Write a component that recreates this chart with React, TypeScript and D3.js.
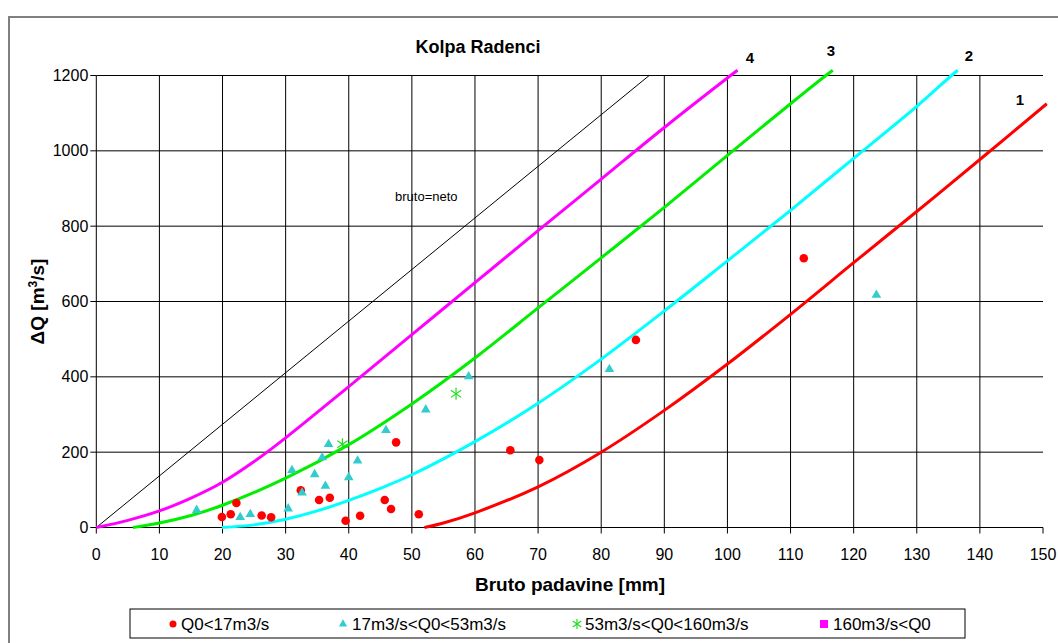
import React from "react";
import * as d3 from "d3";

// ---- data ----
const xTicks = [0, 10, 20, 30, 40, 50, 60, 70, 80, 90, 100, 110, 120, 130, 140, 150];
const yTicks = [0, 200, 400, 600, 800, 1000, 1200];

// curve 4 (magenta)
const curve4P = [0, 5, 10, 15, 20, 25, 30, 40, 50, 60, 70, 80, 90, 100.5, 101.6];
const curve4Q = [0, 19, 44, 78, 120, 175, 238, 374, 512, 650, 788, 925, 1062, 1200, 1214];
// curve 3 (green)
const curve3P = [5.8, 10, 15, 20, 30, 40, 50, 60, 70, 80, 90, 100, 110, 115.6, 116.7];
const curve3Q = [0, 12, 32, 59, 131, 220, 328, 450, 583, 716, 850, 988, 1125, 1200, 1214];
// curve 2 (cyan)
const curve2P = [19.9, 25, 30, 35, 40, 45, 50, 60, 70, 80, 90, 100, 110, 120, 130, 135.5, 136.5];
const curve2Q = [0, 7, 22, 44, 72, 104, 140, 228, 330, 447, 575, 708, 842, 980, 1118, 1200, 1214];
// curve 1 (red)
const curve1P = [52, 55, 60, 70, 80, 90, 100, 110, 120, 130, 140, 150.6];
const curve1Q = [0, 12, 39, 108, 200, 311, 434, 566, 703, 839, 977, 1125];
// bruto = neto line
const brutoP = [0, 87.6];
const brutoQ = [0, 1200];

// Q0 < 17 m3/s (red circles)
const redP = [19.9, 21.3, 22.2, 26.2, 27.7, 32.4, 35.3, 37.0, 39.5, 41.8, 45.7, 46.7, 47.5, 51.1, 65.6, 70.2, 85.5, 112.1];
const redQ = [28, 35, 65, 32, 27, 99, 73, 79, 18, 31, 73, 49, 226, 35, 205, 179, 498, 715];
// 17 < Q0 < 53 (cyan triangles)
const cyanP = [15.9, 22.8, 24.4, 30.4, 31.0, 32.6, 34.6, 35.8, 36.3, 36.8, 40.0, 41.4, 45.9, 52.2, 59.0, 81.3, 123.6];
const cyanQ = [46, 27, 35, 50, 152, 92, 141, 186, 110, 221, 133, 177, 258, 313, 401, 420, 617];
// 53 < Q0 < 160 (green asterisks)
const greenP = [39.0, 57.0];
const greenQ = [221, 355];

const curveLabels = ["4", "3", "2", "1"];
const legendLabels = ["Q0<17m3/s", "17m3/s<Q0<53m3/s", "53m3/s<Q0<160m3/s", "160m3/s<Q0"];

const FONT = "'Liberation Sans', Arial, sans-serif";

export default function App() {
  const x = d3.scaleLinear().domain([0, 150]).range([96.3, 1043]);
  const y = d3.scaleLinear().domain([0, 1200]).range([527.5, 75.5]);
  const line = d3
    .line<[number, number]>()
    .x((d) => x(d[0]))
    .y((d) => y(d[1]))
    .curve(d3.curveCatmullRom.alpha(0.5));
  const straight = d3
    .line<[number, number]>()
    .x((d) => x(d[0]))
    .y((d) => y(d[1]));
  const zip = (a: number[], b: number[]) => a.map((v, i) => [v, b[i]] as [number, number]);

  const curves = [
    { p: curve1P, q: curve1Q, color: "#FF0000" },
    { p: curve2P, q: curve2Q, color: "#00FFFF" },
    { p: curve3P, q: curve3Q, color: "#00EE00" },
    { p: curve4P, q: curve4Q, color: "#FF00FF" },
  ];

  const tri = d3.symbol().type(d3.symbolTriangle).size(40)();
  const triSmall = d3.symbol().type(d3.symbolTriangle).size(30)();

  const star = (cx: number, cy: number, s: number, key: string) => (
    <g key={key} stroke="#22DD22" strokeWidth={1.2}>
      <line x1={cx} y1={cy - s} x2={cx} y2={cy + s} />
      <line x1={cx - s * 0.85} y1={cy - s * 0.6} x2={cx + s * 0.85} y2={cy + s * 0.6} />
      <line x1={cx - s * 0.85} y1={cy + s * 0.6} x2={cx + s * 0.85} y2={cy - s * 0.6} />
    </g>
  );

  return (
    <svg width={1058} height={643} style={{ position: "absolute", left: 0, top: 0, background: "#fff" }} fontFamily={FONT}>
      <rect x={0} y={0} width={1058} height={643} fill="#fff" />
      <rect x={9} y={17} width={1070} height={640} fill="#fff" stroke="#808080" strokeWidth={2} />

      {/* title */}
      <text x={478} y={53} textAnchor="middle" fontSize={18} fontWeight="bold">Kolpa Radenci</text>

      {/* gridlines */}
      {yTicks.filter((t) => t > 0).map((t) => (
        <line key={"hy" + t} x1={x(0)} x2={x(150)} y1={y(t)} y2={y(t)} stroke="#000" strokeWidth={1} />
      ))}
      {xTicks.filter((t) => t > 0 && t < 150).map((t) => (
        <line key={"vx" + t} x1={x(t)} x2={x(t)} y1={y(0)} y2={y(1200)} stroke="#000" strokeWidth={1} />
      ))}

      {/* axes */}
      <line x1={x(0)} x2={x(0)} y1={y(0)} y2={y(1200)} stroke="#000" />
      <line x1={x(0)} x2={x(150)} y1={y(0)} y2={y(0)} stroke="#000" />
      {yTicks.map((t) => (
        <g key={"yt" + t}>
          <line x1={x(0) - 6} x2={x(0)} y1={y(t)} y2={y(t)} stroke="#000" />
          <text x={x(0) - 8} y={y(t) + 5.5} textAnchor="end" fontSize={16}>{t}</text>
        </g>
      ))}
      {xTicks.map((t) => (
        <g key={"xt" + t}>
          <line x1={x(t)} x2={x(t)} y1={y(0)} y2={y(0) + 6} stroke="#000" />
          <text x={x(t)} y={y(0) + 32} textAnchor="middle" fontSize={16}>{t}</text>
        </g>
      ))}

      {/* axis titles */}
      <text x={570} y={591} textAnchor="middle" fontSize={19} fontWeight="bold">Bruto padavine [mm]</text>
      <text transform={`translate(44,${y(600)}) rotate(-90)`} textAnchor="middle" fontSize={19} fontWeight="bold">
        ΔQ [m<tspan dy={-7} fontSize={12}>3</tspan><tspan dy={7}>/s]</tspan>
      </text>

      {/* bruto = neto */}
      <path d={straight(zip(brutoP, brutoQ)) || ""} fill="none" stroke="#000" strokeWidth={1} />
      <text x={395} y={201} fontSize={13}>bruto=neto</text>

      {/* curves */}
      {curves.map((c, i) => (
        <path key={"c" + i} d={line(zip(c.p, c.q)) || ""} fill="none" stroke={c.color} strokeWidth={3} />
      ))}
      <text x={750} y={63} textAnchor="middle" fontSize={15} fontWeight="bold">{curveLabels[0]}</text>
      <text x={831} y={56} textAnchor="middle" fontSize={15} fontWeight="bold">{curveLabels[1]}</text>
      <text x={969} y={61} textAnchor="middle" fontSize={15} fontWeight="bold">{curveLabels[2]}</text>
      <text x={1020} y={105} textAnchor="middle" fontSize={15} fontWeight="bold">{curveLabels[3]}</text>

      {/* points */}
      {redP.map((p, i) => (
        <circle key={"r" + i} cx={x(p)} cy={y(redQ[i])} r={4.3} fill="#FF0000" />
      ))}
      {cyanP.map((p, i) => (
        <path key={"t" + i} d={tri || ""} transform={`translate(${x(p)},${y(cyanQ[i])})`} fill="#33CCCC" />
      ))}
      {greenP.map((p, i) => star(x(p), y(greenQ[i]), 6, "g" + i))}

      {/* legend */}
      <rect x={130} y={609} width={835} height={29} fill="#fff" stroke="#000" strokeWidth={1} />
      <circle cx={173} cy={624} r={3.5} fill="#FF0000" />
      <text x={181} y={630} fontSize={17}>{legendLabels[0]}</text>
      <path d={triSmall || ""} transform="translate(343,624)" fill="#33CCCC" />
      <text x={352} y={630} fontSize={17}>{legendLabels[1]}</text>
      {star(577, 624, 5, "lg")}
      <text x={585} y={630} fontSize={17}>{legendLabels[2]}</text>
      <rect x={820} y={620} width={8} height={8} fill="#FF00FF" />
      <text x={833} y={630} fontSize={17}>{legendLabels[3]}</text>
    </svg>
  );
}
